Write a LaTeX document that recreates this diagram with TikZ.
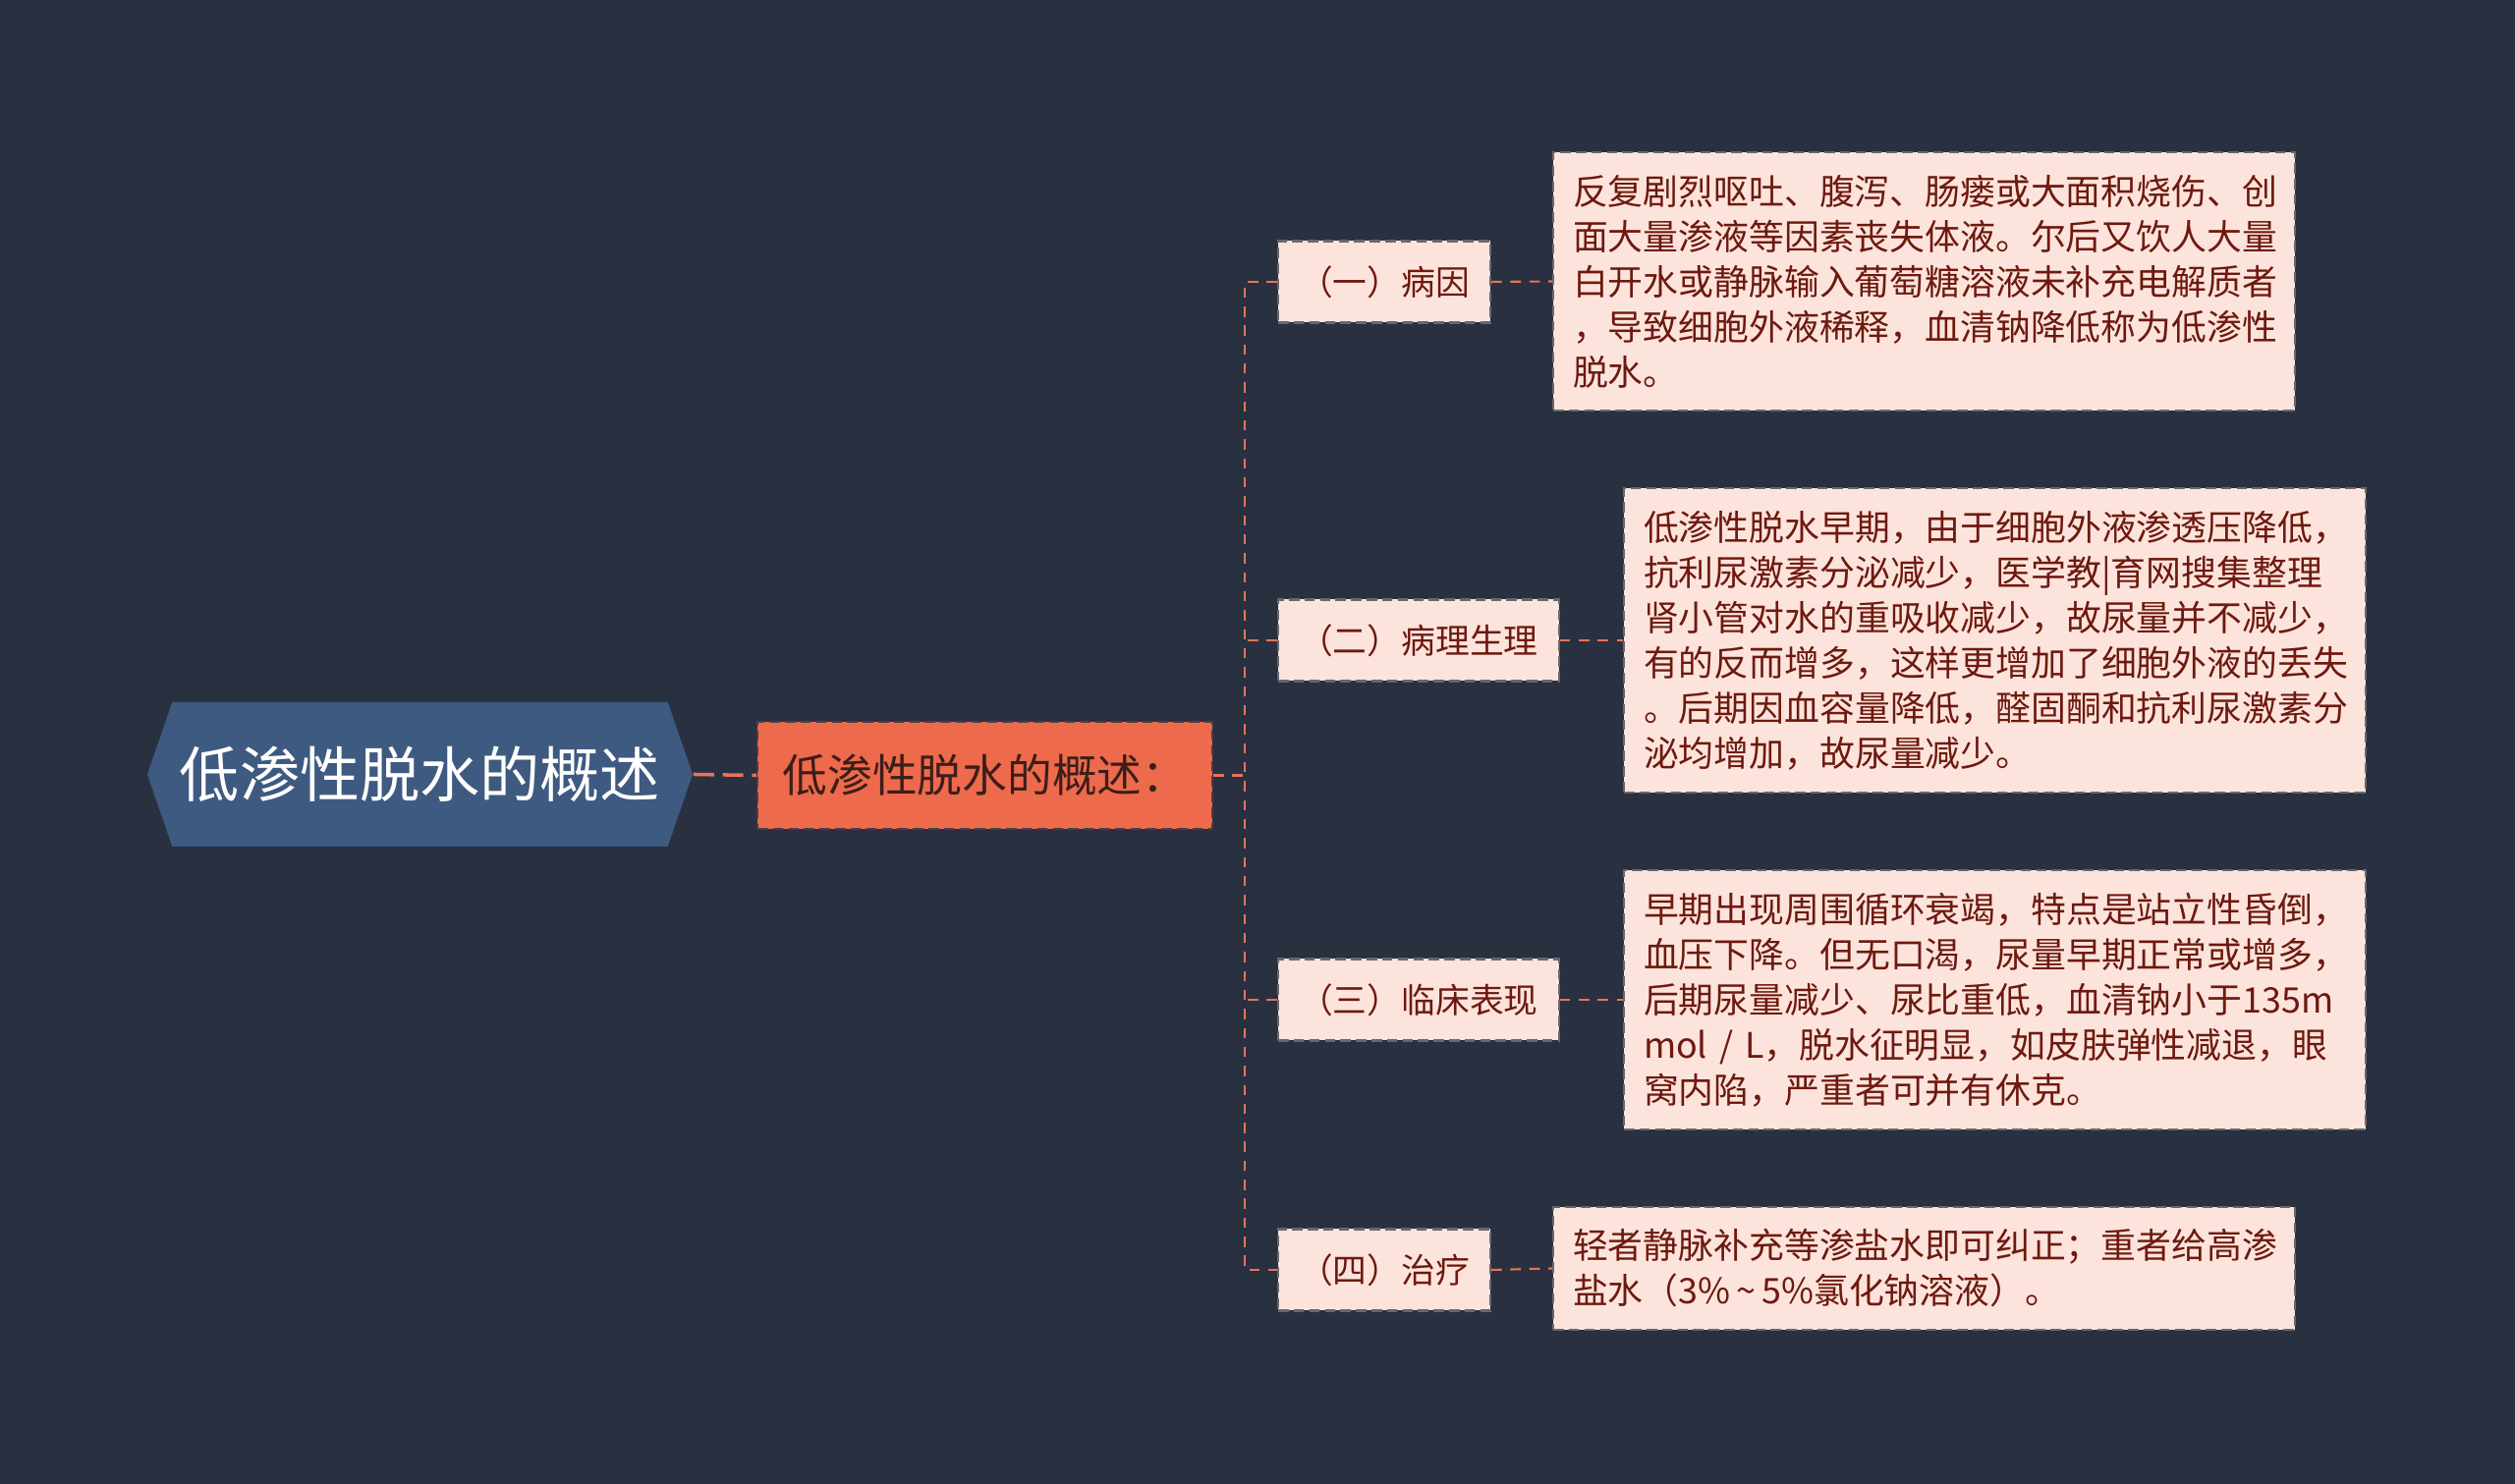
\documentclass[tikz,border=0pt]{standalone}
\usepackage{fontspec}
\newfontfamily\cjk{Noto Sans CJK SC}
\usetikzlibrary{shapes.symbols}

\definecolor{bgdark}{RGB}{41,49,64}
\definecolor{rootblue}{RGB}{62,90,128}
\definecolor{mainorange}{RGB}{238,106,76}
\definecolor{leafpink}{RGB}{252,228,220}
\definecolor{linkred}{RGB}{232,115,90}
\definecolor{inkred}{RGB}{110,25,15}
\definecolor{inkdark}{RGB}{60,30,25}

\tikzset{
  rootbox/.style={shape=signal, signal to=west and east, signal pointer angle=142,
    fill=rootblue, text=white, minimum width=5.55cm, minimum height=1.47cm,
    inner sep=0pt, font=\cjk\fontsize{17.4}{20}\selectfont},
  mainbox/.style={fill=mainorange, draw=bgdark!80!mainorange, dash pattern=on 3pt off 1.5pt,
    line width=0.6pt, minimum width=4.63cm, minimum height=1.09cm,
    text=inkdark, font=\cjk\fontsize{13}{15}\selectfont},
  branchbox/.style={fill=leafpink, draw=bgdark!70!leafpink, dash pattern=on 3pt off 1.5pt,
    line width=0.6pt, minimum height=0.83cm, inner xsep=0.21cm,
    text=inkred, font=\cjk\fontsize{9.9}{12}\selectfont},
  leafbox/.style={fill=leafpink, draw=bgdark!70!leafpink, dash pattern=on 3pt off 1.5pt,
    line width=0.6pt, text width=7.15cm, align=left, inner xsep=0.2cm, inner ysep=0.23cm,
    text=inkred, font=\cjk\fontsize{10.2}{13.1}\selectfont},
  link/.style={draw=linkred, line width=0.6pt, dash pattern=on 3pt off 2.5pt},
}

\begin{document}
\begin{tikzpicture}
    % background
    \fill[bgdark] (0, 0) rectangle (25.6, 15.11);
    \useasboundingbox (0, 0) rectangle (25.6, 15.11);

    % root and main node
    \node[rootbox] (root) at (4.275, 7.225) {低渗性脱水的概述};
    \node[mainbox] (main) at (10.025, 7.215) {低渗性脱水的概述：};

    % branches
    \node[branchbox, anchor=west] (b1) at (13.00, 12.24) {（一）病因};
    \node[branchbox, anchor=west] (b2) at (13.00, 8.59) {（二）病理生理};
    \node[branchbox, anchor=west] (b3) at (13.00, 4.93) {（三）临床表现};
    \node[branchbox, anchor=west] (b4) at (13.00, 2.18) {（四）治疗};

    % leaves
    \node[leafbox, anchor=west] (l1) at (15.80, 12.245) {反复剧烈呕吐、腹泻、肠瘘或大面积烧伤、创\\面大量渗液等因素丧失体液。尔后又饮人大量\\白开水或静脉输入葡萄糖溶液未补充电解质者\\，导致细胞外液稀释，血清钠降低称为低渗性\\脱水。};
    \node[leafbox, anchor=west] (l2) at (16.52, 8.59) {低渗性脱水早期，由于细胞外液渗透压降低，\\抗利尿激素分泌减少，医学教|育网搜集整理\\肾小管对水的重吸收减少，故尿量并不减少，\\有的反而增多，这样更增加了细胞外液的丢失\\。后期因血容量降低，醛固酮和抗利尿激素分\\泌均增加，故尿量减少。};
    \node[leafbox, anchor=west] (l3) at (16.52, 4.93) {早期出现周围循环衰竭，特点是站立性昏倒，\\血压下降。但无口渴，尿量早期正常或增多，\\后期尿量减少、尿比重低，血清钠小于135m\\mol / L，脱水征明显，如皮肤弹性减退，眼\\窝内陷，严重者可并有休克。};
    \node[leafbox, anchor=west] (l4) at (15.80, 2.195) {轻者静脉补充等渗盐水即可纠正；重者给高渗\\盐水（3\%\,\textasciitilde\,5\%氯化钠溶液）。};

    % connectors
    \coordinate (spine) at (12.67, 7.215);
    \draw[link, line width=1pt, dash pattern=on 6pt off 2.5pt] (root.east) -- (main.west);
    \draw[link] (main.east) -- (spine);
    \draw[link] (b1.west) -- (b1.west -| spine) -- (b4.west -| spine) -- (b4.west);
    \foreach \b in {b2, b3} {
        \draw[link] (\b.west) -- (\b.west -| spine);
    }
    \foreach \b/\l in {b1/l1, b2/l2, b3/l3, b4/l4} {
        \draw[link] (\b.east) -- (\l.west);
    }
\end{tikzpicture}
\end{document}
